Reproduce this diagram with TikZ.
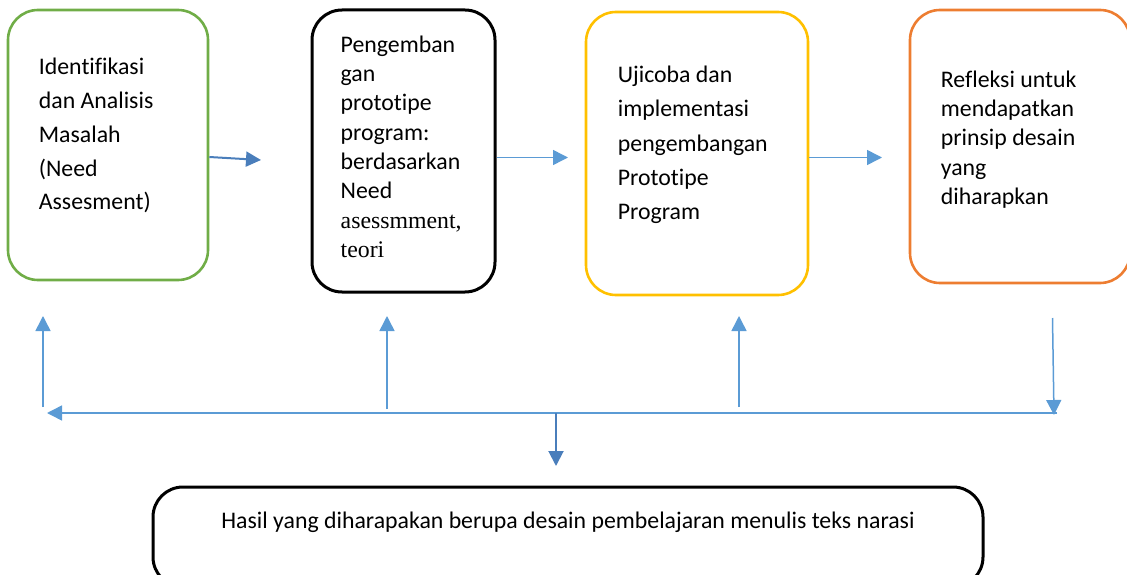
\documentclass[tikz,border=0pt]{standalone}
\usepackage{fontspec}
\setmainfont{Carlito}[Ligatures=NoCommon]
\newfontfamily\serifpart{Liberation Serif}
\usetikzlibrary{arrows.meta}

\definecolor{boxgreen}{HTML}{70AD47}
\definecolor{boxyellow}{HTML}{FFC000}
\definecolor{boxorange}{HTML}{ED7D31}
\definecolor{flowblue}{HTML}{5B9BD5}
\definecolor{darkblue}{HTML}{4A7EBB}

\tikzset{
	stage/.style={draw, rounded corners=30, line width=2.6, inner sep=0},
	stagetext/.style={anchor=north west, inner sep=0, align=left, font=\fontsize{23.8}{33.7}\selectfont},
	flow/.style={draw=flowblue, line width=1.5, -{Triangle[length=15, width=15]}},
	flowdark/.style={draw=darkblue, line width=2, -{Triangle[length=15, width=15]}}
}

\begin{document}
\begin{tikzpicture}[x=1pt, y=-1pt]
		
		\useasboundingbox (0,0) rectangle (1127,575);
		
		%
		\node[stage, draw=boxgreen, minimum width=200, minimum height=270] (B1) at (108,145) {};
		\node[stage, draw=black, line width=3, minimum width=183, minimum height=282] (B2) at (403.5,151) {};
		\node[stage, draw=boxyellow, minimum width=222, minimum height=283] (B3) at (697,153.5) {};
		\node[stage, draw=boxorange, minimum width=220, minimum height=273] (B4) at (1020,146.5) {};
		\node[stage, draw=black, line width=3, minimum width=830, minimum height=100] (B5) at (568,537) {};
		
		
		%
		\node[stagetext] (T1) at ([xshift=32, yshift=-49.5]B1.north west) {Identifikasi\\dan Analisis\\Masalah\\(Need\\Assesment)};
		\node[stagetext, font=\fontsize{23.8}{29.3}\selectfont] (T2) at ([xshift=30, yshift=-27]B2.north west) {Pengemban\\gan\\prototipe\\program:\\berdasarkan\\Need\\{\serifpart asessmment,}\\{\serifpart teori}};
		\node[stagetext, font=\fontsize{23.8}{34.3}\selectfont] (T3) at ([xshift=33, yshift=-55]B3.north west) {Ujicoba dan\\implementasi\\pengembangan\\Prototipe\\Program};
		\node[stagetext, font=\fontsize{23.8}{29.2}\selectfont] (T4) at ([xshift=32, yshift=-62]B4.north west) {Refleksi untuk\\mendapatkan\\prinsip desain\\yang\\diharapkan};
		\node[font=\fontsize{23.8}{26}\selectfont, inner sep=0] (T5) at (568,522) {Hasil yang diharapakan berupa desain pembelajaran menulis teks narasi};
		
		
		%
		\coordinate (A1) at (261,160);
		\coordinate (A2) at (568,157.5);
		\coordinate (A3) at (882,157.5);
		
		\draw[flowdark] ([yshift=-12]B1.east) -- (A1);
		\draw[flow] ([yshift=-6.5]B2.east) -- (A2);
		\draw[flow] ([yshift=-4]B3.east) -- (A3);
		
		
		%
		\coordinate (L) at (47,413);
		\coordinate (R) at (1057,413);
		\coordinate (M) at (556,413);
		\coordinate (D) at (556,466);
		\coordinate (R0) at (1052.5,318);
		\coordinate (R1) at (1054,415);
		
		\foreach \i/\x/\y in {1/43/407, 2/387/409, 3/739/407} {
			\coordinate (U\i) at (\x,\y);
			\coordinate (V\i) at (\x,316);
		}
		
		\draw[flow] (R) -- (L);
		\foreach \i in {1,2,3} {
			\draw[flow] (U\i) -- (V\i);
		}
		\draw[flow] (R0) -- (R1);
		\draw[flowdark] (M) -- (D);
		
		
	\end{tikzpicture}
\end{document}
